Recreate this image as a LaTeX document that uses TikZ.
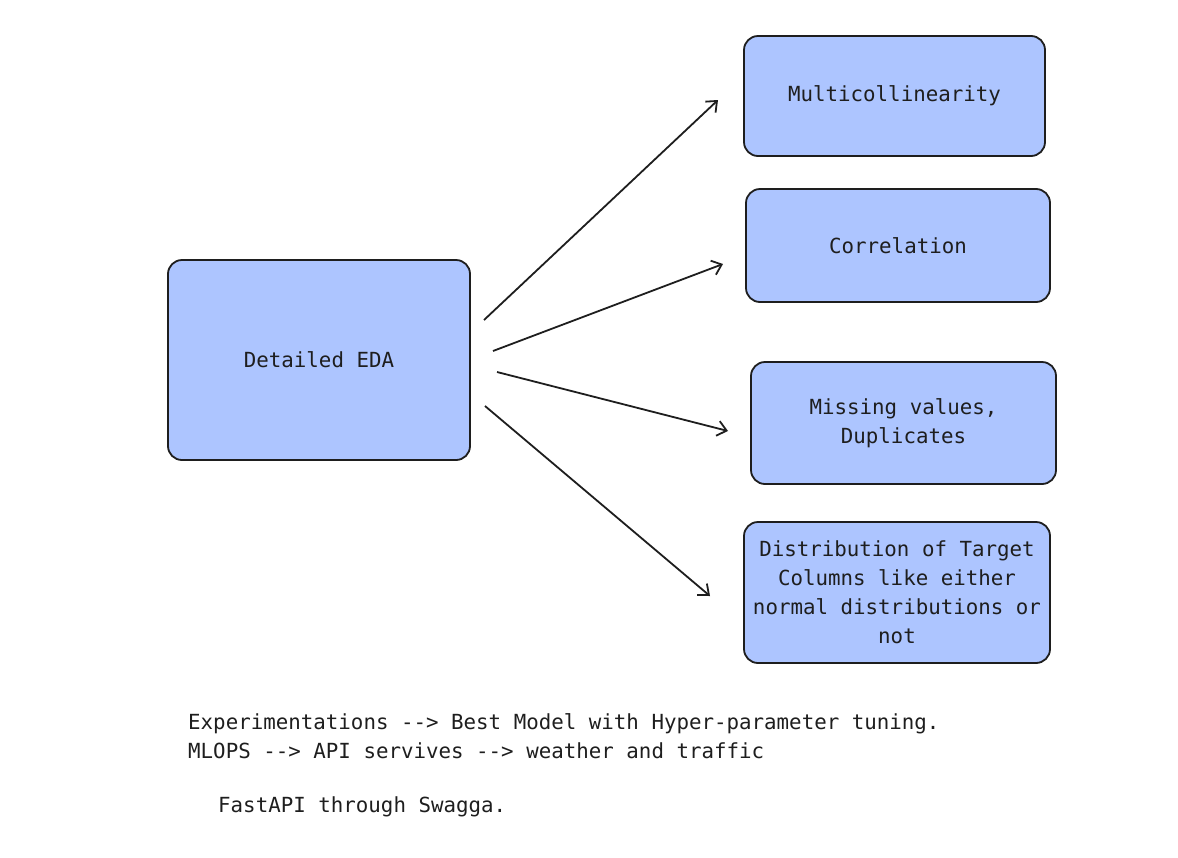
\documentclass[tikz,border=0pt]{standalone}
\usepackage{fontspec}
\setmonofont{DejaVu Sans Mono}
\usetikzlibrary{arrows.meta}
\definecolor{boxfill}{RGB}{173,197,255}
\definecolor{ink}{RGB}{30,30,30}
\tikzset{
  card/.style={draw=ink, line width=1.8pt, fill=boxfill, rounded corners=14pt,
    align=center, inner sep=0pt, font=\ttfamily\fontsize{20.8}{29}\selectfont, text=ink},
  link/.style={draw=ink, line width=1.8pt, -{Straight Barb[length=9pt,width=15pt,line width=1.8pt]}},
  note/.style={anchor=base west, inner sep=0pt, font=\ttfamily\fontsize{20.8}{29}\selectfont, text=ink}
}
\begin{document}
\begin{tikzpicture}[x=1pt,y=-1pt]
\useasboundingbox (0,0) rectangle (1178,857);
\node[card, minimum width=302pt, minimum height=200pt] (eda) at (319,360) {Detailed EDA};
\node[card, minimum width=301pt, minimum height=120pt] (multi) at (894.5,96) {Multicollinearity};
\node[card, minimum width=304pt, minimum height=113pt] (corr) at (898,245.5) {Correlation};
\node[card, minimum width=305pt, minimum height=122pt] (miss) at (903.5,423) {Missing values,\\Duplicates};
\node[card, minimum width=306pt, minimum height=141pt] (dist) at (897,592.5) {Distribution of Target\\Columns like either\\normal distributions or\\not};
\coordinate (s1) at (484,320); \coordinate (e1) at (718,100);
\coordinate (s2) at (493,351); \coordinate (e2) at (723,264);
\coordinate (s3) at (497,372); \coordinate (e3) at (728,431);
\coordinate (s4) at (485,406); \coordinate (e4) at (710,596);
\draw[link] (s1) -- (e1);
\draw[link] (s2) -- (e2);
\draw[link] (s3) -- (e3);
\draw[link] (s4) -- (e4);
\node[note] (n1) at (188,729) {Experimentations --> Best Model with Hyper-parameter tuning.};
\node[note] (n2) at (188,758) {MLOPS --> API servives --> weather and traffic};
\node[note] (n3) at (218,812) {FastAPI through Swagga.};
\end{tikzpicture}
\end{document}
